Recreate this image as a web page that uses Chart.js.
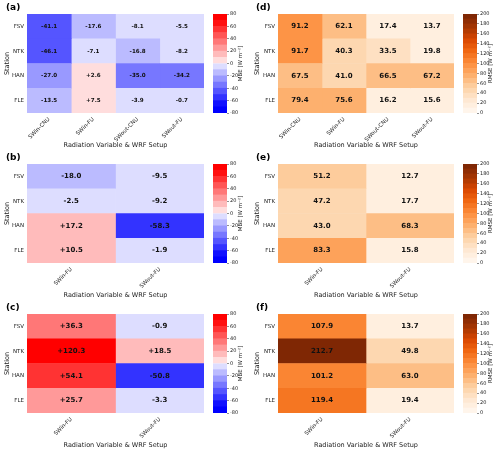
<!DOCTYPE html>
<html>
<head>
<meta charset="utf-8">
<script src="https://cdn.jsdelivr.net/npm/chart.js@4"></script>
<style>
  body { margin: 0; background: #fff; }
  #wrap { position: relative; width: 500px; height: 452px; overflow: hidden; background: #fff; }
  canvas { position: absolute; }
  .letter { position: absolute; font: bold 9px "DejaVu Sans"; color: #000; }
</style>
</head>
<body>
<div id="wrap"></div>
<script>
// ---- data ----
const stations = ['FSV', 'NTK', 'HAN', 'FLE'];
const setups4 = ['SWin-CNU', 'SWin-FU', 'SWout-CNU', 'SWout-FU'];
const setups2 = ['SWin-FU', 'SWout-FU'];

// one array per column, rows follow stations
const mbeA = [[-41.1, -46.1, -27.0, -13.5], [-17.6, -7.1, 2.6, 7.5], [-8.1, -16.8, -35.0, -3.9], [-5.5, -8.2, -34.2, -0.7]];
const rmseD = [[91.2, 91.7, 67.5, 79.4], [62.1, 40.3, 41.0, 75.6], [17.4, 33.5, 66.5, 16.2], [13.7, 19.8, 67.2, 15.6]];
const mbeB = [[-18.0, -2.5, 17.2, 10.5], [-9.5, -9.2, -58.3, -1.9]];
const rmseE = [[51.2, 47.2, 43.0, 83.3], [12.7, 17.7, 68.3, 15.8]];
const mbeC = [[36.3, 120.3, 54.1, 25.7], [-0.9, 18.5, -50.8, -3.3]];
const rmseF = [[107.9, 212.7, 101.2, 119.4], [13.7, 49.8, 63.0, 19.4]];

const mbeLevels = { min: -80, max: 80, step: 10, tick: 20 };
const rmseLevels = { min: 0, max: 200, step: 10, tick: 20 };

// ---- colours ----
const FONT = '"DejaVu Sans"';
const bwrStops = [[0, 0, 255], [255, 255, 255], [255, 0, 0]];
const orangeStops = [[255, 245, 235], [254, 230, 206], [253, 208, 162], [253, 174, 107], [253, 141, 60],
  [241, 105, 19], [217, 72, 1], [166, 54, 3], [127, 39, 4]];

function interp(stops, x) {
  const n = stops.length - 1;
  const p = Math.max(0, Math.min(1, x)) * n;
  const k = Math.min(Math.floor(p), n - 1);
  const f = p - k;
  const c = stops[k].map((a, m) => Math.round(a + (stops[k + 1][m] - a) * f));
  return 'rgb(' + c.join(',') + ')';
}

function binColor(v, kind) {
  const lv = kind === 'mbe' ? mbeLevels : rmseLevels;
  const nb = (lv.max - lv.min) / lv.step;
  let i = Math.floor((v - lv.min) / lv.step);
  i = Math.max(0, Math.min(nb - 1, i));
  if (kind === 'mbe') {
    // diverging bins, no pure-white bin at the centre
    const x = i < nb / 2 ? (i - 0.5) / (nb - 1) : (i + 0.5) / (nb - 1);
    return interp(bwrStops, x);
  }
  return interp(orangeStops, i / (nb - 1));
}

function fmt(v, kind) {
  const s = v.toFixed(1);
  return kind === 'mbe' && v > 0 ? '+' + s : s;
}

// ---- panels ----
const panels = [
  { letter: '(a)', left: 0, top: 0, cols: setups4, vals: mbeA, kind: 'mbe', yw: 27, fs: 5.6 },
  { letter: '(d)', left: 250, top: 0, cols: setups4, vals: rmseD, kind: 'rmse', yw: 28, fs: 7 },
  { letter: '(b)', left: 0, top: 150, cols: setups2, vals: mbeB, kind: 'mbe', yw: 27, fs: 7 },
  { letter: '(e)', left: 250, top: 150, cols: setups2, vals: rmseE, kind: 'rmse', yw: 28, fs: 7 },
  { letter: '(c)', left: 0, top: 300, cols: setups2, vals: mbeC, kind: 'mbe', yw: 27, fs: 7 },
  { letter: '(f)', left: 250, top: 300, cols: setups2, vals: rmseF, kind: 'rmse', yw: 28, fs: 7 }
];

const wrap = document.getElementById('wrap');
function makeCanvas(left, top, w, h) {
  const c = document.createElement('canvas');
  c.width = w; c.height = h;
  c.style.left = left + 'px'; c.style.top = top + 'px';
  c.style.width = w + 'px'; c.style.height = h + 'px';
  wrap.appendChild(c);
  return c;
}

const cellText = {
  id: 'cellText',
  afterDatasetsDraw(chart, args, opts) {
    const ctx = chart.ctx;
    ctx.save();
    ctx.font = 'bold ' + opts.size + 'px ' + FONT;
    ctx.fillStyle = '#111';
    ctx.textAlign = 'center';
    ctx.textBaseline = 'middle';
    chart.data.datasets.forEach((ds, j) => {
      chart.getDatasetMeta(j).data.forEach((bar, i) => {
        const c = bar.getCenterPoint();
        ctx.fillText(fmt(ds.vals[i], opts.kind), c.x, c.y);
      });
    });
    ctx.restore();
  }
};

const barLabel = {
  id: 'barLabel',
  afterDraw(chart, args, opts) {
    const ctx = chart.ctx;
    ctx.save();
    ctx.font = '5.5px ' + FONT;
    ctx.fillStyle = '#222';
    ctx.textAlign = 'center';
    ctx.textBaseline = 'middle';
    const a = chart.chartArea;
    ctx.translate(opts.x, (a.top + a.bottom) / 2);
    ctx.rotate(-Math.PI / 2);
    ctx.fillText(opts.text, 0, 0);
    ctx.restore();
  }
};

function heatmap(p) {
  const cv = makeCanvas(p.left, p.top, 250, 150);
  new Chart(cv, {
    type: 'bar',
    data: {
      labels: stations,
      datasets: p.cols.map((c, j) => ({
        label: c,
        data: p.vals[j].map(() => [j, j + 1]),
        vals: p.vals[j],
        backgroundColor: p.vals[j].map(v => binColor(v, p.kind)),
        borderWidth: 0,
        grouped: false,
        barPercentage: 1,
        categoryPercentage: 1
      }))
    },
    options: {
      indexAxis: 'y',
      responsive: false,
      animation: false,
      events: [],
      layout: { padding: { top: 14, right: 46, left: 0, bottom: 0 } },
      plugins: {
        legend: { display: false },
        tooltip: { enabled: false },
        cellText: { size: p.fs, kind: p.kind }
      },
      scales: {
        x: {
          type: 'linear',
          min: 0,
          max: p.cols.length,
          grid: { display: false, drawTicks: false },
          border: { display: false },
          afterBuildTicks: s => { s.ticks = p.cols.map((c, j) => ({ value: j + 0.5 })); },
          afterFit: s => { s.height = 37; },
          ticks: {
            autoSkip: false, minRotation: 45, maxRotation: 45, padding: 3,
            color: '#222', font: { size: 5.5, family: FONT },
            callback: v => p.cols[Math.floor(v)]
          },
          title: {
            display: true, text: 'Radiation Variable & WRF Setup', color: '#222',
            font: { size: 6.5, family: FONT }, padding: { top: 0, bottom: 1 }
          }
        },
        y: {
          grid: { display: false, drawTicks: false },
          border: { display: false },
          afterFit: s => { s.width = p.yw; },
          ticks: { padding: 3, color: '#222', font: { size: 5.5, family: FONT } },
          title: {
            display: true, text: 'Station', color: '#222',
            font: { size: 6.5, family: FONT }, padding: { top: 3, bottom: 0 }
          }
        }
      }
    },
    plugins: [cellText]
  });
}

function colorbar(p) {
  const lv = p.kind === 'mbe' ? mbeLevels : rmseLevels;
  const cv = makeCanvas(p.left + 205, p.top, 45, 150);
  const bins = [];
  for (let lo = lv.min; lo < lv.max; lo += lv.step) bins.push(lo);
  new Chart(cv, {
    type: 'bar',
    data: {
      labels: [''],
      datasets: bins.map(lo => ({
        data: [[lo, lo + lv.step]],
        backgroundColor: binColor(lo + lv.step / 2, p.kind),
        borderWidth: 0,
        grouped: false,
        barPercentage: 1,
        categoryPercentage: 1
      }))
    },
    options: {
      responsive: false,
      animation: false,
      events: [],
      layout: { padding: { top: 14, right: 0, left: 8, bottom: 37 } },
      plugins: {
        legend: { display: false },
        tooltip: { enabled: false },
        barLabel: { x: 36, text: (p.kind === 'mbe' ? 'MBE' : 'RMSE') + ' [W m\u207B\u00B2]' }
      },
      scales: {
        x: { display: false },
        y: {
          position: 'right',
          min: lv.min,
          max: lv.max,
          border: { display: false },
          grid: { display: true, drawOnChartArea: false, tickLength: 2, color: '#444', lineWidth: 0.6 },
          afterFit: s => { s.width = 23; },
          ticks: { stepSize: lv.tick, padding: 1, color: '#222', font: { size: 5, family: FONT } }
        }
      }
    },
    plugins: [barLabel]
  });
}

panels.forEach(p => {
  heatmap(p);
  colorbar(p);
  const d = document.createElement('div');
  d.className = 'letter';
  d.textContent = p.letter;
  d.style.left = (p.left + 6) + 'px';
  d.style.top = (p.top + 2) + 'px';
  wrap.appendChild(d);
});
</script>
</body>
</html>
